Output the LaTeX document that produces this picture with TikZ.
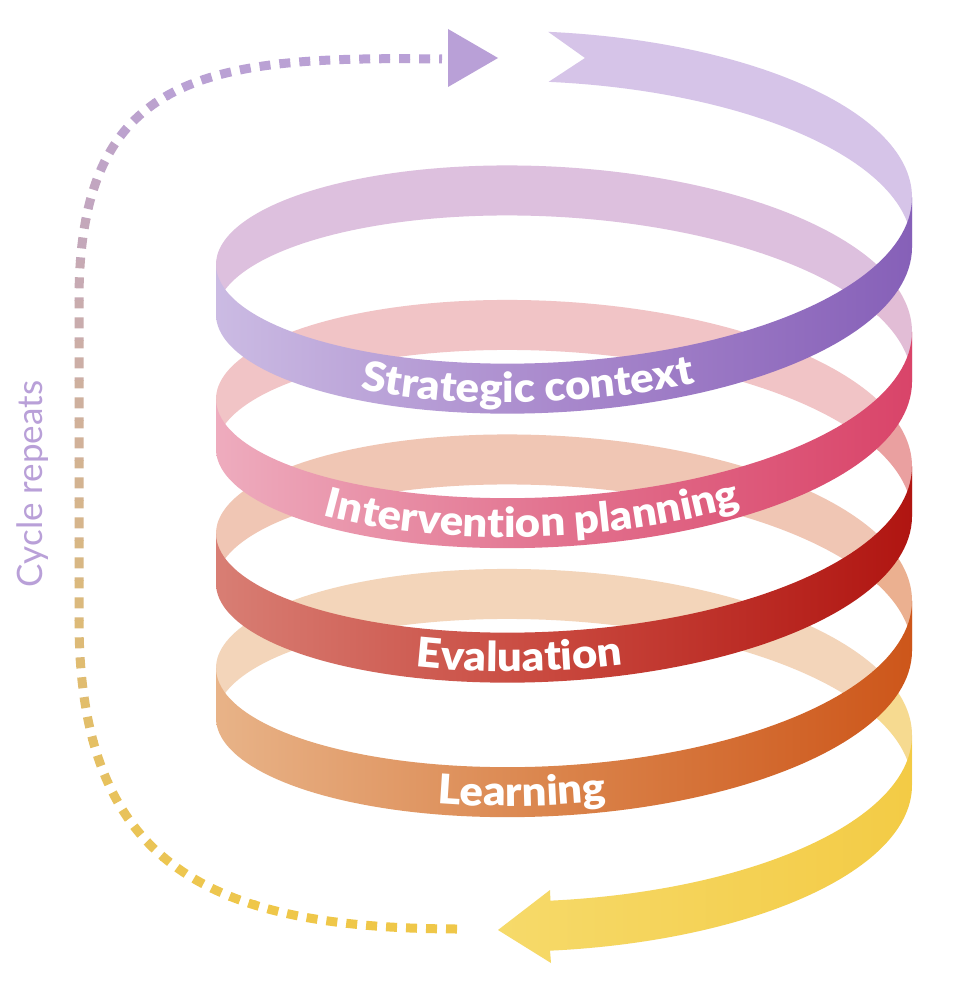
\documentclass[tikz,border=0pt]{standalone}
\usepackage{fontspec}
\setsansfont{Lato}
\newfontfamily\lblfont{Lato Black}[FakeStretch=1.06]
\newfontfamily\cycfont{Lato}
\usetikzlibrary{decorations.text}
\definecolor{bk0}{HTML}{D6C4E8}
\definecolor{f1l}{HTML}{CBBBE3}\definecolor{f1m}{HTML}{A888CC}\definecolor{f1r}{HTML}{8660B8}
\definecolor{b1a}{HTML}{DDC0DE}\definecolor{b1e}{HTML}{E2BDD6}
\definecolor{f2l}{HTML}{EEACBE}\definecolor{f2m}{HTML}{E2718E}\definecolor{f2r}{HTML}{D94469}
\definecolor{b2a}{HTML}{F1C4C6}\definecolor{b2e}{HTML}{EAA0A0}
\definecolor{f3l}{HTML}{D87E74}\definecolor{f3m}{HTML}{C8463C}\definecolor{f3r}{HTML}{B01511}
\definecolor{b3a}{HTML}{F0C6B4}\definecolor{b3e}{HTML}{EBB090}
\definecolor{f4l}{HTML}{E8B388}\definecolor{f4m}{HTML}{DA834A}\definecolor{f4r}{HTML}{CD561A}
\definecolor{b4a}{HTML}{F3D5BA}\definecolor{b4e}{HTML}{F6DA90}
\definecolor{f5l}{HTML}{F6DA6A}\definecolor{f5r}{HTML}{F3CB45}
\definecolor{purc}{HTML}{B9A0D7}
\definecolor{yelc}{HTML}{F0C846}
\definecolor{cyc}{HTML}{B9A0D8}
\newcommand\ribseg[3]{%
  \path[#3] plot[domain=0:1,samples=90,variable=\u] ({hx(#1+(#2-#1)*\u)},{hy(#1+(#2-#1)*\u)})
   -- plot[domain=0:1,samples=90,variable=\u] ({hx(#2-(#2-#1)*\u)},{hy(#2-(#2-#1)*\u)+50}) -- cycle;}
\newcommand\riblabel[3]{%
  \path[decorate,decoration={text along path,text align=center,
     text={|\lblfont\fontsize{41pt}{43pt}\selectfont\color{white}|#3}}]
     plot[domain=0:1,samples=120,variable=\u] ({hx(#1-(#1-#2)*\u)},{hy(#1-(#1-#2)*\u)+39});}
\begin{document}
\begin{tikzpicture}[x=1pt,y=-1pt,
  declare function={hx(\a)=564+348*cos(\a); hy(\a)=197.3+0.3736111*\a+131*sin(\a);},
  dotsty/.style={line width=9pt,dash pattern=on 11pt off 9pt}]
\useasboundingbox (0,0) rectangle (960,1000);
\fill[white] (0,0) rectangle (960,1000);
% back halves (inner side of the ribbon)
\path[fill=bk0] plot[domain=0:1,samples=60,variable=\u] ({hx(-92.6+92.6*\u)},{hy(-92.6+92.6*\u)})
   -- plot[domain=0:1,samples=60,variable=\u] ({hx(-92.6*\u)},{hy(-92.6*\u)+50}) -- (585,58) -- cycle;
\ribseg{180}{334.5}{fill=b1a}\ribseg{334}{360}{fill=b1e}
\ribseg{540}{694.5}{fill=b2a}\ribseg{694}{720}{fill=b2e}
\ribseg{900}{1054.5}{fill=b3a}\ribseg{1054}{1080}{fill=b3e}
\ribseg{1260}{1414.5}{fill=b4a}\ribseg{1414}{1440}{fill=b4e}
% front halves
\ribseg{0}{180}{left color=f1l,right color=f1r,middle color=f1m}
\ribseg{360}{540}{left color=f2l,right color=f2r,middle color=f2m}
\ribseg{720}{900}{left color=f3l,right color=f3r,middle color=f3m}
\ribseg{1080}{1260}{left color=f4l,right color=f4r,middle color=f4m}
% final yellow arrow
\path[left color=f5l,right color=f5r]
  plot[domain=0:1,samples=60,variable=\u] ({hx(1440+92.3*\u)},{hy(1440+92.3*\u)})
  -- (550,890) -- (498,930) -- (551,963) -- (550,950.7)
  -- plot[domain=0:1,samples=60,variable=\u] ({hx(1532.3-92.3*\u)},{hy(1532.3-92.3*\u)+50}) -- cycle;
% labels
\riblabel{161.3}{41.3}{Strategic context}
\riblabel{520.1}{400.1}{Intervention planning}
\riblabel{883.7}{763.7}{Evaluation}
\riblabel{1243}{1123}{Learning}
% cycle connector
\coordinate (loopS) at (457,929);
\coordinate (loopE) at (442,59);
\foreach \i in {0,...,23}{
  \pgfmathsetmacro\ya{20+40*\i}
  \pgfmathtruncatemacro\k{max(0,min(100,(\ya-40)/870*100))}
  \begin{scope}
    \clip (0,\ya) rectangle (960,\ya+40);
    \draw[dotsty,color=yelc!\k!purc] (loopS) .. controls (215,928) and (79,870) .. (79,620)
       -- (79,300) .. controls (79,70) and (210,56) .. (loopE);
  \end{scope}
}
\fill[purc] (448,29) -- (498,58) -- (448,87) -- cycle;
\node[rotate=90,text=cyc,font=\cycfont\fontsize{35pt}{37pt}\selectfont] (cyclabel) at (33,484) {Cycle repeats};
\end{tikzpicture}
\end{document}
